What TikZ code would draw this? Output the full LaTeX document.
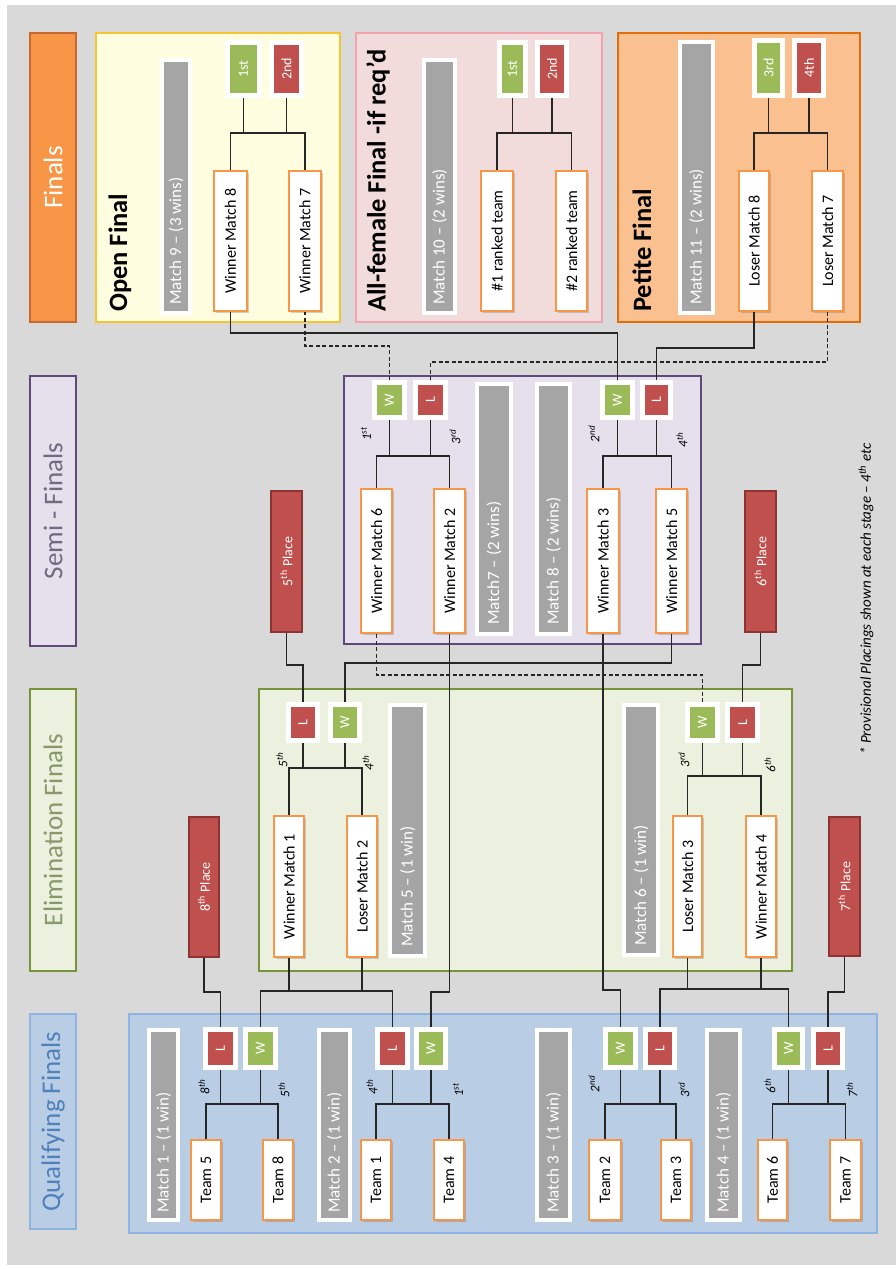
\documentclass[tikz,border=0pt]{standalone}
\usepackage{fontspec}
\usepackage{graphicx}
\setmainfont{Carlito}
\usetikzlibrary{shadows}
\definecolor{bg}{HTML}{D9D9D9}
\definecolor{orng}{HTML}{F79646}
\definecolor{orngdk}{HTML}{C8682C}
\definecolor{petfill}{HTML}{FAC090}
\definecolor{petdraw}{HTML}{E46C0A}
\definecolor{openfill}{HTML}{FEFDE0}
\definecolor{opendraw}{HTML}{F5C431}
\definecolor{femfill}{HTML}{F2DCDB}
\definecolor{femdraw}{HTML}{F3A3AD}
\definecolor{semifill}{HTML}{E5E0EC}
\definecolor{semidraw}{HTML}{5F497A}
\definecolor{semitext}{HTML}{6F6A80}
\definecolor{elimfill}{HTML}{EBF1DE}
\definecolor{elimdraw}{HTML}{77933C}
\definecolor{elimtext}{HTML}{86996A}
\definecolor{qualfill}{HTML}{B9CDE5}
\definecolor{qualdraw}{HTML}{8EB4E3}
\definecolor{qualtext}{HTML}{4F81BD}
\definecolor{wgreen}{HTML}{9BBB59}
\definecolor{lred}{HTML}{C0504D}
\definecolor{darkred}{HTML}{8C3431}
\definecolor{barg}{HTML}{A5A5A5}
\newcommand\rbx[7]{\node[#1, minimum width={#5-#3}, minimum height={#6-#4}] (#2) at ({(#3+#5)/2},{(#4+#6)/2}) {\rotatebox{90}{#7}};}
\begin{document}
\begin{tikzpicture}[x=1pt,y=-1pt,
  hdr/.style={draw, line width=2pt, inner sep=0pt, font=\fontsize{27}{30}\selectfont},
  grp/.style={draw, line width=2.5pt, inner sep=0pt},
  team/.style={draw=orng, fill=white, line width=2.5pt, inner sep=0pt, font=\fontsize{16}{18}\selectfont, drop shadow={opacity=0.3, shadow xshift=1.5pt, shadow yshift=-1.5pt, fill=black!60}},
  bar/.style={fill=barg, draw=white, line width=4pt, inner sep=0pt},
  wbox/.style={fill=wgreen, draw=white, line width=5pt, inner sep=0pt, text=white, font=\fontsize{14}{16}\selectfont},
  lbox/.style={wbox, fill=lred},
  place/.style={fill=lred, draw=darkred, line width=2pt, inner sep=0pt, text=white, font=\fontsize{14}{16}\selectfont},
  bartext/.style={rotate=90, anchor=west, text=white, font=\fontsize{17}{19}\selectfont, inner sep=0pt},
  lab/.style={rotate=90, font=\fontsize{13}{15}\selectfont\itshape, inner sep=0pt},
  ttl/.style={rotate=90, anchor=west, font=\fontsize{26.5}{30}\selectfont\bfseries, inner sep=0pt},
  conn/.style={line width=1.4pt, black!85},
  dconn/.style={conn, dash pattern=on 4pt off 2.5pt}]
\useasboundingbox (0,0) rectangle (896,1269);
\fill[white] (0,0) rectangle (896,1269);
\fill[bg] (7,5) rectangle (896,1265);

% stage headers
\rbx{hdr, fill=orng, draw=orngdk, text=white}{hF}{30}{33}{76}{322}{Finals}
\rbx{hdr, fill=semifill, draw=semidraw, text=semitext}{hS}{30}{376}{76}{646}{Semi - Finals}
\rbx{hdr, fill=elimfill, draw=elimdraw, text=elimtext}{hE}{30}{689}{76}{971}{Elimination Finals}
\rbx{hdr, fill=qualfill, draw=qualdraw, text=qualtext}{hQ}{30}{1014}{76}{1229}{Qualifying Finals}

% group boxes
\rbx{grp, fill=openfill, draw=opendraw}{gOpen}{96}{33}{340}{322}{}
\rbx{grp, fill=femfill, draw=femdraw}{gFem}{356}{33}{602}{322}{}
\rbx{grp, fill=petfill, draw=petdraw}{gPet}{618}{33}{860}{322}{}
\rbx{grp, fill=semifill, draw=semidraw}{gSemi}{344}{376}{701}{644}{}
\rbx{grp, fill=elimfill, draw=elimdraw}{gElim}{259}{689}{792}{971}{}
\rbx{grp, fill=qualfill, draw=qualdraw}{gQual}{129}{1014}{877}{1233}{}

% ---------- Finals ----------
\node[ttl] (tOpen) at (120,312) {Open Final};
\rbx{bar}{bar9}{162}{60}{190}{313}{}
\node[bartext] (bar9t) at ([yshift=10pt]bar9.south) {Match 9 -- (3 wins)};
\rbx{team}{wm8}{214}{171}{247}{311}{Winner Match 8}
\rbx{team}{wm7}{289}{171}{321}{311}{Winner Match 7}
\rbx{wbox}{o1}{227.5}{42.5}{259.5}{95.5}{1st}
\rbx{lbox}{o2}{271.5}{42.5}{301.5}{95.5}{2nd}

\node[ttl] (tFem) at (378,312) {All-female Final -if req'd};
\rbx{bar}{bar10}{424}{60}{455}{313}{}
\node[bartext] (bar10t) at ([yshift=10pt]bar10.south) {Match 10 -- (2 wins)};
\rbx{team}{r1}{481}{171}{513}{311}{\#1 ranked team}
\rbx{team}{r2}{556}{171}{587}{311}{\#2 ranked team}
\rbx{wbox}{f1}{499.5}{42.5}{525.5}{95.5}{1st}
\rbx{lbox}{f2}{537.5}{42.5}{566.5}{95.5}{2nd}

\node[ttl] (tPet) at (642,312) {Petite Final};
\rbx{bar}{bar11}{680}{42}{713}{313}{}
\node[bartext] (bar11t) at ([yshift=10pt]bar11.south) {Match 11 -- (2 wins)};
\rbx{team}{lm8}{739}{171}{769}{311}{Loser Match 8}
\rbx{team}{lm7}{812}{171}{843}{311}{Loser Match 7}
\rbx{wbox}{p3}{754.5}{40.5}{782.5}{95.5}{3rd}
\rbx{lbox}{p4}{794.5}{40.5}{823.5}{95.5}{4th}

% ---------- Semis ----------
\rbx{team}{wm6s}{361}{489}{392}{633}{Winner Match 6}
\rbx{team}{wm2s}{434}{489}{465}{633}{Winner Match 2}
\rbx{bar}{bar7}{477}{384}{511}{634}{}
\node[bartext] (bar7t) at ([yshift=11pt]bar7.south) {Match7 -- (2 wins)};
\rbx{bar}{bar8}{537}{384}{570}{634}{}
\node[bartext] (bar8t) at ([yshift=11pt]bar8.south) {Match 8 -- (2 wins)};
\rbx{team}{wm3s}{587}{489}{619}{633}{Winner Match 3}
\rbx{team}{wm5s}{656}{489}{687}{633}{Winner Match 5}
\rbx{wbox}{sW1}{374.5}{382.5}{404.5}{417.5}{W}
\rbx{lbox}{sL1}{415.5}{382.5}{445.5}{417.5}{L}
\rbx{wbox}{sW2}{602.5}{382.5}{632.5}{417.5}{W}
\rbx{lbox}{sL2}{642.5}{382.5}{670.5}{417.5}{L}
\node[lab] (ls1) at (366,434) {1\textsuperscript{st}};
\node[lab] (ls3) at (455,437) {3\textsuperscript{rd}};
\node[lab] (ls2) at (594,434) {2\textsuperscript{nd}};
\node[lab] (ls4) at (682,440) {4\textsuperscript{th}};

% places
\rbx{place}{p5}{271}{491}{302}{632}{5\textsuperscript{th} Place}
\rbx{place}{p6}{745}{491}{776}{632}{6\textsuperscript{th} Place}
\rbx{place}{p8}{189}{817}{219}{957}{8\textsuperscript{th} Place}
\rbx{place}{p7}{829}{817}{860}{956}{7\textsuperscript{th} Place}

% ---------- Elimination ----------
\rbx{team}{wm1e}{274}{816}{304}{957}{Winner Match 1}
\rbx{team}{lm2e}{347}{816}{377}{957}{Loser Match 2}
\rbx{bar}{bar5}{390}{705}{425}{956}{}
\node[bartext] (bar5t) at ([yshift=11pt]bar5.south) {Match 5 -- (1 win)};
\rbx{lbox}{eL1}{288.5}{704.5}{317.5}{740.5}{L}
\rbx{wbox}{eW1}{330.5}{704.5}{359.5}{740.5}{W}
\node[lab] (le5) at (282,760) {5\textsuperscript{th}};
\node[lab] (le4) at (368,763) {4\textsuperscript{th}};
\rbx{bar}{bar6}{624}{705}{658}{955}{}
\node[bartext] (bar6t) at ([yshift=11pt]bar6.south) {Match 6 -- (1 win)};
\rbx{team}{lm3e}{673}{816}{702}{957}{Loser Match 3}
\rbx{team}{wm4e}{746}{816}{776}{957}{Winner Match 4}
\rbx{wbox}{eW2}{687.5}{704.5}{717.5}{740.5}{W}
\rbx{lbox}{eL2}{727.5}{704.5}{757.5}{740.5}{L}
\node[lab] (le3) at (684,760) {3\textsuperscript{rd}};
\node[lab] (le6) at (770,765) {6\textsuperscript{th}};

% ---------- Qualifying ----------
\rbx{bar}{bar1}{149}{1030}{178}{1220}{}
\node[bartext] (bar1t) at ([yshift=9pt]bar1.south) {Match 1 -- (1 win)};
\rbx{team}{t5}{191}{1140}{221}{1220}{Team 5}
\rbx{team}{t8}{263}{1140}{293}{1220}{Team 8}
\rbx{lbox}{qL1}{205.5}{1029.5}{235.5}{1067.5}{L}
\rbx{wbox}{qW1}{245.5}{1029.5}{275.5}{1067.5}{W}
\node[lab] (lq8) at (204,1087) {8\textsuperscript{th}};
\node[lab] (lq5) at (284,1090) {5\textsuperscript{th}};

\rbx{bar}{bar2}{319}{1030}{350}{1220}{}
\node[bartext] (bar2t) at ([yshift=9pt]bar2.south) {Match 2 -- (1 win)};
\rbx{team}{t1}{361}{1140}{391}{1220}{Team 1}
\rbx{team}{t4}{434}{1140}{464}{1220}{Team 4}
\rbx{lbox}{qL2}{377.5}{1029.5}{407.5}{1067.5}{L}
\rbx{wbox}{qW2}{416.5}{1029.5}{445.5}{1067.5}{W}
\node[lab] (lq4) at (372,1087) {4\textsuperscript{th}};
\node[lab] (lq1) at (458,1090) {1\textsuperscript{st}};

\rbx{bar}{bar3}{537}{1030}{570}{1220}{}
\node[bartext] (bar3t) at ([yshift=9pt]bar3.south) {Match 3 -- (1 win)};
\rbx{team}{t2}{589}{1140}{621}{1220}{Team 2}
\rbx{team}{t3}{661}{1140}{691}{1220}{Team 3}
\rbx{wbox}{qW3}{605.5}{1029.5}{635.5}{1067.5}{W}
\rbx{lbox}{qL3}{645.5}{1029.5}{674.5}{1067.5}{L}
\node[lab] (lq2) at (594,1084) {2\textsuperscript{nd}};
\node[lab] (lq3) at (684,1090) {3\textsuperscript{rd}};

\rbx{bar}{bar4}{707}{1030}{740}{1220}{}
\node[bartext] (bar4t) at ([yshift=9pt]bar4.south) {Match 4 -- (1 win)};
\rbx{team}{t6}{758}{1140}{787}{1220}{Team 6}
\rbx{team}{t7}{830}{1140}{861}{1220}{Team 7}
\rbx{wbox}{qW4}{774.5}{1029.5}{802.5}{1067.5}{W}
\rbx{lbox}{qL4}{813.5}{1029.5}{842.5}{1067.5}{L}
\node[lab] (lq6) at (770,1086) {6\textsuperscript{th}};
\node[lab] (lq7) at (852,1090) {7\textsuperscript{th}};

% footnote
\node[rotate=90, anchor=west, inner sep=0pt, font=\fontsize{15}{17}\selectfont\itshape] (foot) at (866,755) {* Provisional Placings shown at each stage -- 4\textsuperscript{th} etc};

% ---------- connectors ----------
\coordinate (yf) at (0,133);
\coordinate (ys) at (0,456);
\coordinate (ye1) at (0,768);
\coordinate (ye2) at (0,776);
\coordinate (yq) at (0,1104);
\coordinate (y333) at (0,333);
\coordinate (y346) at (0,346);
\coordinate (y348) at (0,348);
\coordinate (y362) at (0,362);
\coordinate (y663) at (0,663);
\coordinate (y665) at (0,665);
\coordinate (y675) at (0,675);
\coordinate (y989) at (0,989);
\coordinate (y990) at (0,990);
\coordinate (y991) at (0,991);
\coordinate (y992) at (0,992);

% finals brackets
\draw[conn] (wm8.north) -- (wm8.north |- yf) -| (wm7.north);
\draw[conn] (o1.south) -- (o1.south |- yf);
\draw[conn] (o2.south) -- (o2.south |- yf);
\draw[conn] (r1.north) -- (r1.north |- yf) -| (r2.north);
\draw[conn] (f1.south) -- (f1.south |- yf);
\draw[conn] (f2.south) -- (f2.south |- yf);
\draw[conn] (lm8.north) -- (lm8.north |- yf) -| (lm7.north);
\draw[conn] (p3.south) -- (p3.south |- yf);
\draw[conn] (p4.south) -- (p4.south |- yf);

% semis brackets
\draw[conn] (wm6s.north) -- (wm6s.north |- ys) -| (wm2s.north);
\draw[conn] (sW1.south) -- (sW1.south |- ys);
\draw[conn] (sL1.south) -- (sL1.south |- ys);
\draw[conn] (wm3s.north) -- (wm3s.north |- ys) -| (wm5s.north);
\draw[conn] (sW2.south) -- (sW2.south |- ys);
\draw[conn] (sL2.south) -- (sL2.south |- ys);

% semis to finals
\draw[dconn] (sW1.north) -- (sW1.north |- y346) -| (wm7.south);
\draw[dconn] (sL1.north) -- (sL1.north |- y362) -| (lm7.south);
\draw[conn] (sW2.north) -- (sW2.north |- y333) -| (wm8.south);
\draw[conn] (sL2.north) -- (sL2.north |- y348) -| (lm8.south);

% elimination brackets
\draw[conn] (wm1e.north) -- (wm1e.north |- ye1) -| (lm2e.north);
\draw[conn] (eL1.south) -- (eL1.south |- ye1);
\draw[conn] (eW1.south) -- (eW1.south |- ye1);
\draw[conn] (lm3e.north) -- (lm3e.north |- ye2) -| (wm4e.north);
\draw[conn] (eW2.south) -- (eW2.south |- ye2);
\draw[conn] (eL2.south) -- (eL2.south |- ye2);

% elimination to semis / places
\draw[conn] (eL1.north) -- (eL1.north |- y665) -| (p5.south);
\draw[conn] (eW1.north) -- (eW1.north |- y663) -| (wm5s.south);
\draw[conn] (eL2.north) -- (eL2.north |- y665) -| (p6.south);
\draw[dconn] (wm6s.south) -- (wm6s.south |- y675) -| (eW2.north);

% qualifying brackets
\draw[conn] (t5.north) -- (t5.north |- yq) -| (t8.north);
\draw[conn] (qL1.south) -- (qL1.south |- yq);
\draw[conn] (qW1.south) -- (qW1.south |- yq);
\draw[conn] (t1.north) -- (t1.north |- yq) -| (t4.north);
\draw[conn] (qL2.south) -- (qL2.south |- yq);
\draw[conn] (qW2.south) -- (qW2.south |- yq);
\draw[conn] (t2.north) -- (t2.north |- yq) -| (t3.north);
\draw[conn] (qW3.south) -- (qW3.south |- yq);
\draw[conn] (qL3.south) -- (qL3.south |- yq);
\draw[conn] (t6.north) -- (t6.north |- yq) -| (t7.north);
\draw[conn] (qW4.south) -- (qW4.south |- yq);
\draw[conn] (qL4.south) -- (qL4.south |- yq);

% qualifying to elimination / semis / places
\draw[conn] (qL1.north) -- (qL1.north |- y992) -| (p8.south);
\draw[conn] (qW1.north) -- (qW1.north |- y991) -| (qL2.north);
\draw[conn] (wm1e.south) -- (wm1e.south |- y991);
\draw[conn] (lm2e.south) -- (lm2e.south |- y991);
\draw[conn] (qW2.north) -- (qW2.north |- y992) -| (wm2s.south);
\draw[conn] (qW3.north) -- (qW3.north |- y990) -| (wm3s.south);
\draw[conn] (qL3.north) -- (qL3.north |- y989) -| (qW4.north);
\draw[conn] (lm3e.south) -- (lm3e.south |- y989);
\draw[conn] (wm4e.south) -- (wm4e.south |- y989);
\draw[conn] (qL4.north) -- (qL4.north |- y992) -| (p7.south);
\end{tikzpicture}
\end{document}
